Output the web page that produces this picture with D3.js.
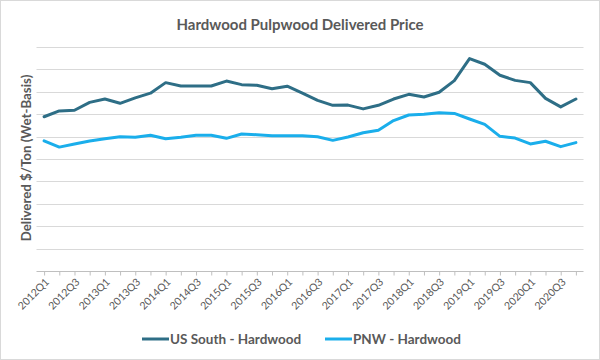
<!DOCTYPE html>
<html><head><meta charset="utf-8">
<script src="https://cdn.jsdelivr.net/npm/d3@7"></script>
<style>
html,body{margin:0;padding:0;background:#fff;}
svg{display:block;}
text{font-family:Lato,"Open Sans",sans-serif;}
</style></head>
<body><svg id="c" width="600" height="360"></svg>
<script>
const quarters = [];
const years = [2012,2013,2014,2015,2016,2017,2018,2019,2020];
years.forEach(y => [1,2,3,4].forEach(q => quarters.push(y + "Q" + q)));
const usSouth = [68.8,71.4,71.7,75.2,76.7,74.8,77.2,79.3,84.0,82.5,82.5,82.5,84.7,83.1,82.8,81.3,82.4,79.3,76.1,73.9,74.0,72.3,73.9,76.7,78.8,77.6,79.7,84.9,94.7,92.2,87.3,85.0,84.0,77.0,73.2,76.7];
const pnw = [58.1,55.3,56.7,58.0,59.0,59.9,59.7,60.6,59.0,59.7,60.6,60.6,59.2,61.1,60.8,60.4,60.4,60.4,59.9,58.3,59.8,61.7,62.8,67.1,69.6,69.9,70.6,70.3,67.8,65.4,60.1,59.3,56.7,57.9,55.5,57.3];
const yTicks = [0,10,20,30,40,50,60,70,80,90,100];
const seriesNames = ["US South - Hardwood","PNW - Hardwood"];
const colors = ["#2E6E86","#1AAEEB"];

const svg = d3.select("#c");
svg.append("rect").attr("x",0.5).attr("y",0.5).attr("width",599).attr("height",359)
  .attr("fill","#fff").attr("stroke","#d9d9d9");

const pL = 36.5, pR = 583.5, pT = 46.7, pB = 271.3;
const x = d3.scalePoint().domain(quarters).range([pL,pR]).padding(0.5);
const y = d3.scaleLinear().domain([0,100]).range([pB,pT]);

// gridlines
svg.append("g").selectAll("line").data(yTicks.slice(1)).join("line")
  .attr("x1",pL).attr("x2",pR)
  .attr("y1",d=>Math.round(y(d))+0.5).attr("y2",d=>Math.round(y(d))+0.5)
  .attr("stroke","#d9d9d9").attr("stroke-width",1);

// x axis
const xAxis = d3.axisBottom(x).tickSize(4)
  .tickFormat((d,i)=> i%2===0 ? d : "");
const gx = svg.append("g").attr("transform",`translate(0,${Math.round(pB)+0.5})`).call(xAxis);
gx.select(".domain").attr("stroke","#bfbfbf").attr("d",`M${pL},0H${pR}`);
gx.selectAll(".tick line").attr("stroke","#bfbfbf");
gx.selectAll(".tick text")
  .attr("fill","#595959").attr("font-size","10.5px")
  .attr("text-anchor","end").attr("dy","0.3em")
  .attr("transform","translate(3,9) rotate(-45)")
  .attr("x",0).attr("y",0);

// lines
const line = d3.line().x((d,i)=>x(quarters[i])).y(d=>y(d));
[usSouth,pnw].forEach((s,k)=>{
  svg.append("path").datum(s).attr("d",line).attr("fill","none")
    .attr("stroke",colors[k]).attr("stroke-width",3).attr("stroke-linejoin","round").attr("stroke-linecap","round");
});

// title
svg.append("text").attr("x",300).attr("y",30).attr("text-anchor","middle")
  .attr("font-size","15px").attr("font-weight","bold").attr("fill","#595959")
  .text("Hardwood Pulpwood Delivered Price");

// y label
svg.append("text").attr("transform","translate(31,158) rotate(-90)")
  .attr("text-anchor","middle").attr("font-size","13.3px").attr("font-weight","bold").attr("fill","#595959")
  .text("Delivered $/Ton (Wet-Basis)");

// legend
const legX = [142,325];
seriesNames.forEach((n,k)=>{
  const g = svg.append("g").attr("transform",`translate(${legX[k]},339)`);
  g.append("line").attr("x1",0).attr("x2",27).attr("y1",0).attr("y2",0)
    .attr("stroke",colors[k]).attr("stroke-width",3);
  g.append("text").attr("x",28).attr("y",0).attr("dy","0.35em")
    .attr("font-size","13.5px").attr("font-weight","bold").attr("fill","#595959").text(n);
});
</script></body></html>
